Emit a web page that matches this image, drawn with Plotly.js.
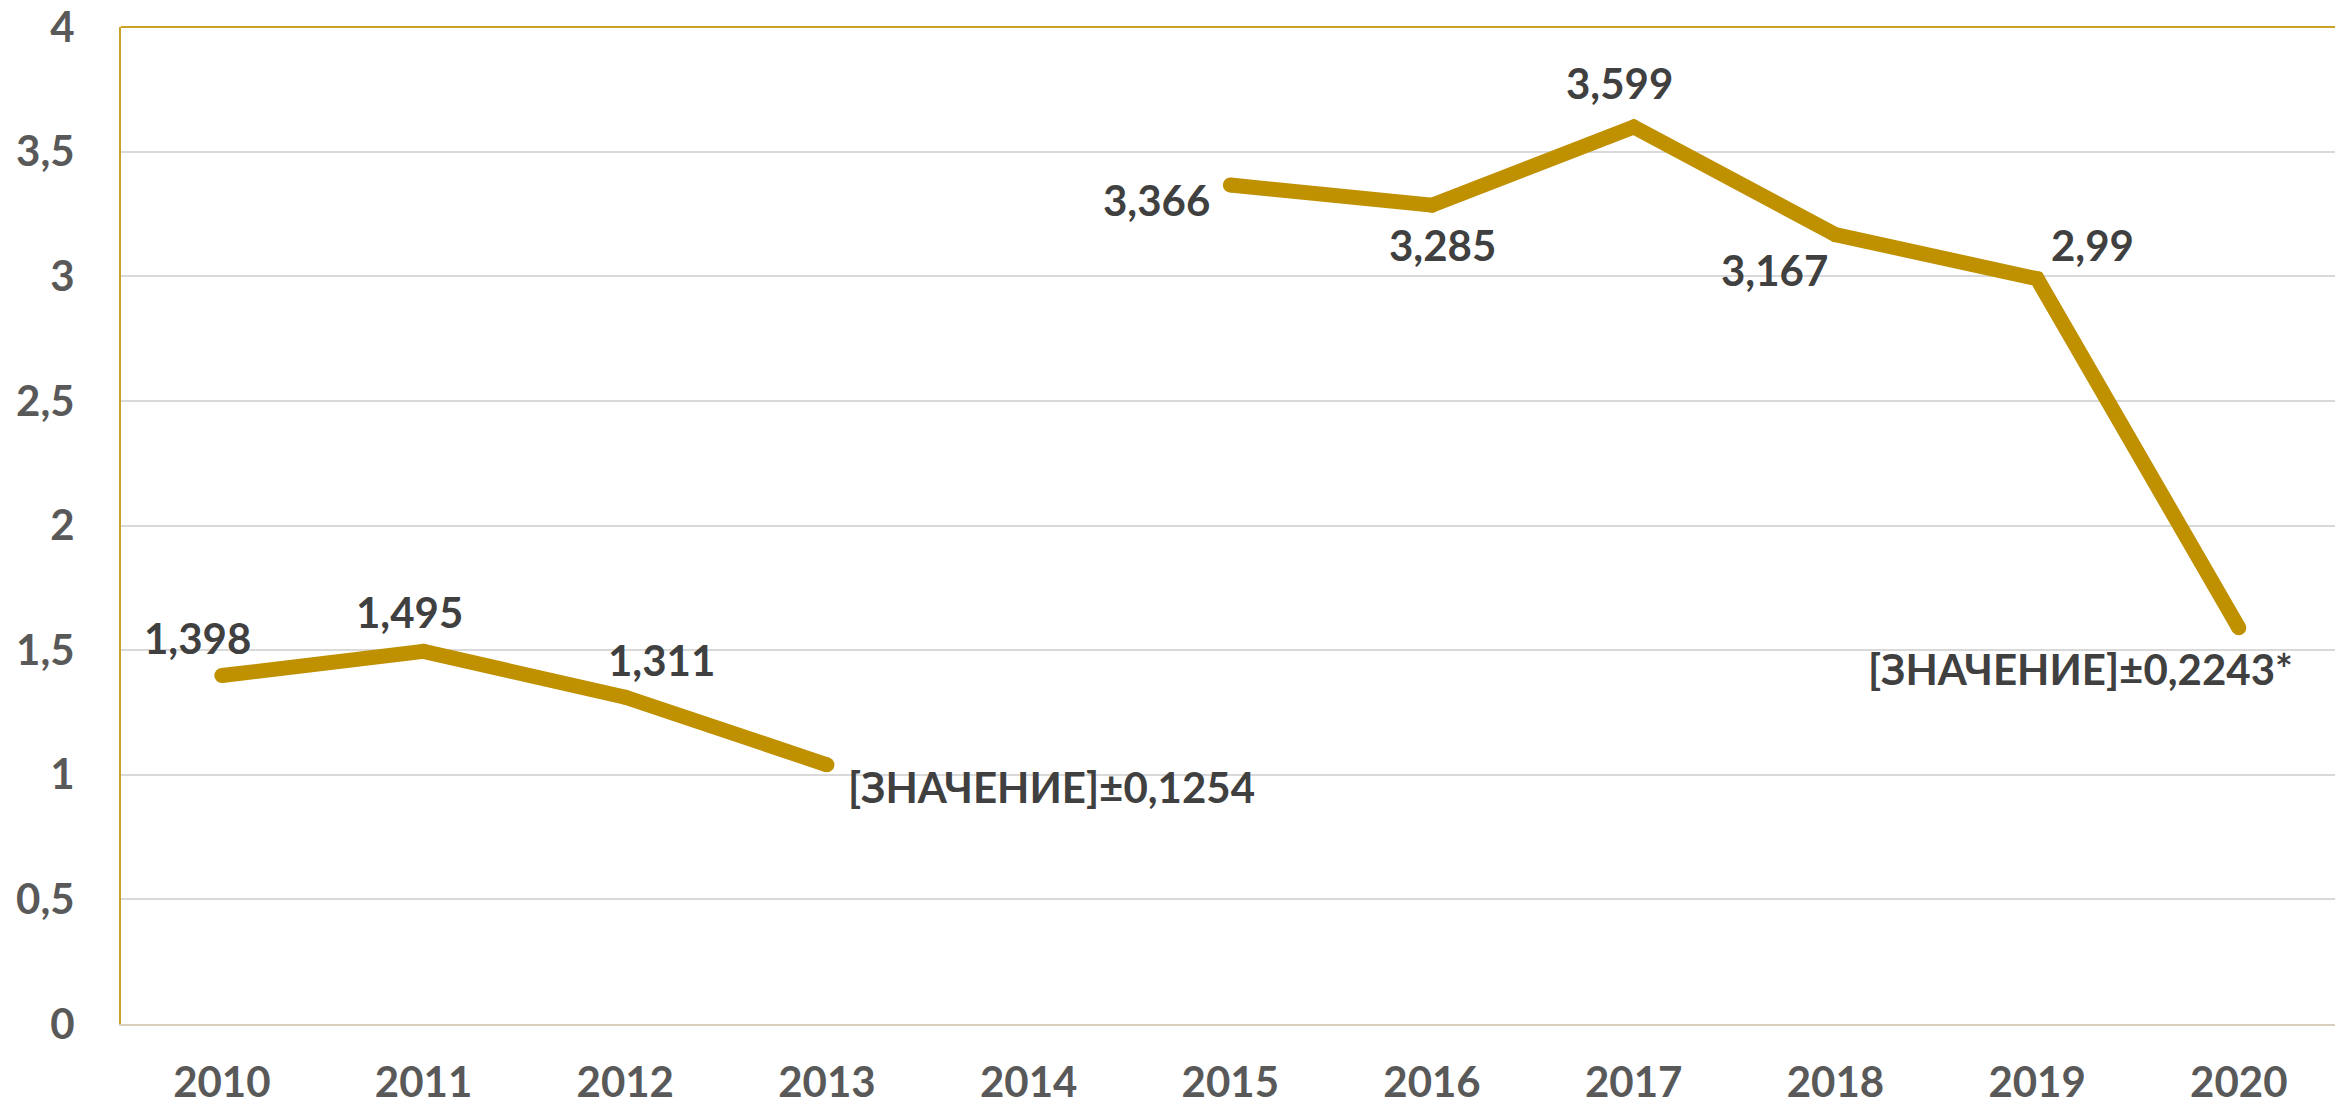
<!DOCTYPE html>
<html>
<head>
<meta charset="utf-8">
<script src="https://cdn.plot.ly/plotly-3.0.1.min.js"></script>
<style>
html,body{margin:0;padding:0;background:#fff;}
#chart{width:2335px;height:1106px;}
</style>
</head>
<body>
<div id="chart"></div>
<script>
// ---- data ----
const years = ['2010','2011','2012','2013','2014','2015','2016','2017','2018','2019','2020'];
const values = [1.398, 1.495, 1.311, 1.04, null, 3.366, 3.285, 3.599, 3.167, 2.99, 1.59];
// special label texts (others show the value itself)
const labelOverrides = {'2013': '[ЗНАЧЕНИЕ]±0,1254', '2020': '[ЗНАЧЕНИЕ]±0,2243*'};
const yTicks = [0, 0.5, 1, 1.5, 2, 2.5, 3, 3.5, 4];

// ---- label placement (styling) ----
const labelPlacement = {
  '2010': {xs: -24, ys: 38, xa: 'center'},
  '2011': {xs: -14, ys: 39, xa: 'center'},
  '2012': {xs: 36, ys: 37, xa: 'center'},
  '2013': {xs: 19, ys: -22, xa: 'left'},
  '2015': {xs: -18, ys: -15, xa: 'right'},
  '2016': {xs: 10, ys: -40, xa: 'center'},
  '2017': {xs: -14, ys: 44, xa: 'center'},
  '2018': {xs: -61, ys: -35, xa: 'center'},
  '2019': {xs: 55, ys: 34, xa: 'center'},
  '2020': {xs: 56, ys: -41, xa: 'right'}
};

const FONT = 'Lato, "Open Sans", "DejaVu Sans", sans-serif';
const GOLD = '#BF9000';

const annotations = [];
years.forEach((yr, i) => {
  const v = values[i];
  if (v === null) return;
  const p = labelPlacement[yr];
  const txt = labelOverrides[yr] || String(v).replace('.', ',');
  annotations.push({
    x: i, y: v, xref: 'x', yref: 'y',
    text: '<b>' + txt + '</b>', showarrow: false,
    xanchor: p.xa, yanchor: 'middle',
    xshift: p.xs, yshift: p.ys,
    font: {family: FONT, size: 42, color: '#404040'}
  });
});

const trace = {
  type: 'scatter',
  mode: 'lines+markers',
  x: years,
  y: values,
  connectgaps: false,
  line: {color: GOLD, width: 15, shape: 'linear'},
  marker: {color: GOLD, size: 15, line: {width: 0}},
  hoverinfo: 'skip'
};

const layout = {
  width: 2335, height: 1106,
  margin: {l: 121, r: 0, t: 27, b: 82, pad: 0},
  paper_bgcolor: '#ffffff',
  plot_bgcolor: '#ffffff',
  separators: ', ',
  showlegend: false,
  font: {family: FONT, size: 42, color: '#595959', weight: 'bold'},
  xaxis: {
    type: 'category',
    range: [-0.5, 10.477],
    showgrid: false,
    zeroline: false,
    showline: true, linecolor: '#D9CFBD', linewidth: 2,
    ticks: '', ticklabelstandoff: 21,
    tickfont: {family: FONT, size: 42, color: '#595959', weight: 'bold'},
    fixedrange: true
  },
  yaxis: {
    range: [0, 4],
    tickvals: yTicks,
    showgrid: true, gridcolor: '#D9D9D9', gridwidth: 2,
    zeroline: false,
    showline: true, linecolor: '#C9A227', linewidth: 2,
    ticks: '', ticklabelstandoff: 36,
    tickfont: {family: FONT, size: 42, color: '#595959', weight: 'bold'},
    fixedrange: true
  },
  shapes: [{
    type: 'line', xref: 'paper', yref: 'paper',
    x0: 0, x1: 1, y0: 1, y1: 1,
    line: {color: '#C9A227', width: 2}
  }],
  annotations: annotations
};

Plotly.newPlot('chart', [trace], layout, {displayModeBar: false, staticPlot: true});
</script>
</body>
</html>
